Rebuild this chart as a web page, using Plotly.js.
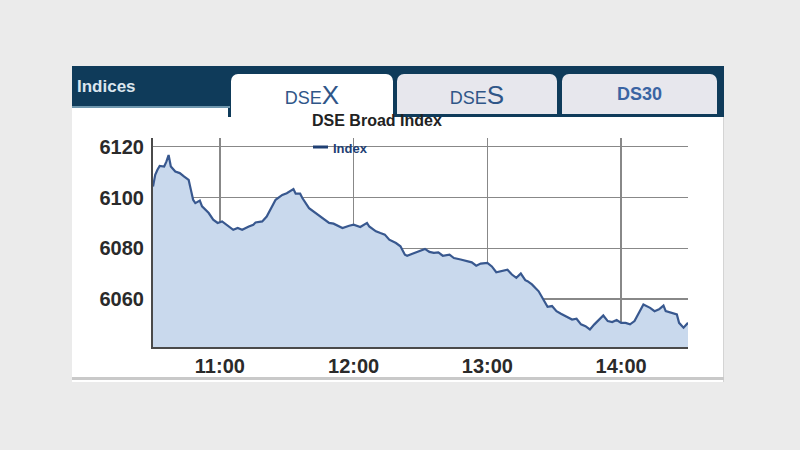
<!DOCTYPE html>
<html>
<head>
<meta charset="utf-8">
<script src="https://cdn.plot.ly/plotly-3.0.1.min.js"></script>
<style>
  html, body { margin:0; padding:0; width:800px; height:450px; background:#ebebeb; overflow:hidden; font-family:"Liberation Sans", Arial, sans-serif; }
  .abs { position:absolute; }
  #panel { left:72px; top:66px; width:652px; height:316px; background:#ffffff; border-right:1px solid #d4d4d4; box-sizing:border-box; }
  #panelBottom { left:72px; top:377px; width:652px; height:3px; background:#c9c9c9; }
  #navyLeft { left:72px; top:66px; width:158px; height:41px; background:#0f3b5a; }
  #navyLeftLine { left:72px; top:106px; width:158px; height:2px; background:#6f97ae; }
  #navyRight { left:228px; top:66px; width:496px; height:51px; background:#0f3b5a; }
  .tab { border-radius:7px 7px 0 0; box-sizing:border-box; text-align:center; color:#2f5688; }
  #tab1 { left:231px; top:74px; width:162px; height:50px; background:#ffffff; }
  #tab2 { left:397px; top:74px; width:160px; height:40px; background:#e7e7ed; }
  #tab3 { left:562px; top:74px; width:155px; height:40px; background:#e7e7ed; }
  #indices { left:77px; top:77px; color:#dbe6ee; font-weight:bold; font-size:17px; }
  .tabtxt { position:absolute; left:0; right:0; top:6px; font-size:18px; }
  .big { font-size:26px; }
  #tab3 .tabtxt { top:10px; font-weight:bold; font-size:18px; color:#3a64a3; }
  #chart { left:0; top:0; width:800px; height:450px; }
</style>
</head>
<body>
<div id="panel" class="abs"></div>
<div id="panelBottom" class="abs"></div>
<div id="navyRight" class="abs"></div>
<div id="navyLeft" class="abs"></div>
<div id="navyLeftLine" class="abs"></div>
<div id="indices" class="abs">Indices</div>
<div id="tab1" class="abs tab"><div class="tabtxt">DSE<span class="big">X</span></div></div>
<div id="tab2" class="abs tab"><div class="tabtxt">DSE<span class="big">S</span></div></div>
<div id="tab3" class="abs tab"><div class="tabtxt">DS30</div></div>
<div id="chart" class="abs"></div>
<script>
// Intraday times (session day) and DSEX index values
const day = "2024-01-01 ";
const times = [
  "10:30","10:31","10:32","10:33","10:35","10:36","10:37","10:38","10:40","10:42",
  "10:44","10:46","10:47","10:48","10:49","10:51","10:52","10:55","10:57","10:59",
  "11:01","11:04","11:06","11:08","11:10","11:13","11:15","11:16","11:19","11:21",
  "11:23","11:25","11:28","11:30","11:33","11:34","11:36","11:37","11:40","11:42",
  "11:44","11:46","11:49","11:51","11:53","11:55","11:58","12:00","12:03","12:06",
  "12:07","12:10","12:12","12:14","12:16","12:19","12:21","12:23","12:24","12:27",
  "12:29","12:32","12:34","12:36","12:38","12:40","12:43","12:45","12:48","12:51",
  "12:53","12:55","12:57","13:00","13:02","13:04","13:06","13:09","13:11","13:13",
  "13:15","13:17","13:18","13:20","13:23","13:25","13:27","13:29","13:31","13:33",
  "13:35","13:38","13:40","13:42","13:44","13:46","13:48","13:50","13:52","13:54",
  "13:56","13:58","14:00","14:02","14:04","14:06","14:08","14:10","14:13","14:15",
  "14:17","14:19","14:20","14:23","14:25","14:26","14:28","14:30"
];
const indexValues = [
  6104.3,6108.9,6110.9,6112.4,6112.2,6114.1,6116.7,6112.2,6110.2,6109.6,
  6108.2,6106.9,6103.0,6099.1,6097.8,6098.8,6096.5,6093.9,6091.3,6090.0,
  6090.6,6088.6,6087.3,6088.0,6087.3,6088.6,6089.3,6090.2,6090.6,6092.5,
  6095.8,6099.1,6101.0,6101.7,6103.3,6101.5,6101.5,6099.8,6095.8,6094.5,
  6093.2,6091.9,6090.0,6089.7,6088.9,6088.0,6088.9,6089.3,6088.4,6090.0,
  6088.6,6086.7,6086.0,6085.4,6083.4,6082.1,6080.8,6077.5,6077.1,6078.2,
  6078.8,6079.8,6078.6,6078.2,6078.4,6077.1,6077.5,6076.2,6075.6,6074.9,
  6074.5,6073.2,6074.0,6074.3,6072.9,6070.6,6071.0,6071.6,6069.7,6068.4,
  6070.1,6067.5,6067.1,6065.8,6063.1,6060.0,6057.0,6057.3,6055.3,6054.3,
  6053.3,6052.0,6052.3,6050.1,6049.4,6048.1,6050.1,6052.0,6053.6,6051.4,
  6051.0,6051.8,6050.7,6050.7,6050.1,6051.4,6054.7,6057.9,6056.6,6055.3,
  6056.0,6057.5,6055.3,6054.7,6054.0,6050.7,6048.8,6050.7
];
const xTickTimes = ["11:00","12:00","13:00","14:00"];
const xTickLabels = ["11:00","12:00","13:00","14:00"];
const yTicks = [6060, 6080, 6100, 6120];
const chartTitle = "DSE Broad Index";
const seriesName = "Index";

const font = "Liberation Sans, Arial, sans-serif";
const trace = {
  x: times.map(t => day + t),
  y: indexValues,
  type: "scatter",
  mode: "lines",
  name: seriesName,
  line: { color: "#38588f", width: 2.2 },
  fill: "tozeroy",
  fillcolor: "#c9d9ed",
  hoverinfo: "skip"
};
const layout = {
  width: 800, height: 450,
  margin: { l: 153, r: 112, t: 138, b: 103, pad: 0 },
  paper_bgcolor: "rgba(0,0,0,0)",
  plot_bgcolor: "rgba(0,0,0,0)",
  showlegend: false,
  xaxis: {
    type: "date",
    range: [day + "10:30", day + "14:30"],
    tickvals: xTickTimes.map(t => day + t),
    ticktext: xTickLabels,
    showgrid: true, gridcolor: "#888888", gridwidth: 1.6,
    showline: true, linecolor: "#4a4a4a", linewidth: 2,
    ticks: "", ticklabelstandoff: 0,
    tickfont: { family: font, size: 20, color: "#2a2a2a", weight: "bold" },
    zeroline: false, fixedrange: true
  },
  yaxis: {
    range: [6041.2, 6123.4],
    tickvals: yTicks,
    ticktext: yTicks.map(String),
    showgrid: true, gridcolor: "#888888", gridwidth: 1.6,
    showline: true, linecolor: "#4a4a4a", linewidth: 2,
    ticks: "", ticklabelstandoff: 3,
    tickfont: { family: font, size: 20, color: "#2a2a2a", weight: "bold" },
    zeroline: false, fixedrange: true
  },
  annotations: [
    { xref: "paper", yref: "paper", x: (377 - 153) / 535, y: (450 - 103 - 120) / 209, text: "<b>" + chartTitle + "</b>",
      showarrow: false, xanchor: "center", yanchor: "middle", font: { family: font, size: 16, color: "#222" } },
    { xref: "paper", yref: "paper", x: (331 - 153) / 535, y: (450 - 103 - 148) / 209, text: "<b>" + seriesName + "</b>",
      showarrow: false, xanchor: "left", yanchor: "middle", font: { family: font, size: 13, color: "#1f3f73" } }
  ],
  shapes: [
    { type: "line", xref: "paper", yref: "paper", x0: (313 - 153) / 535, x1: (328 - 153) / 535,
      y0: (450 - 103 - 147) / 209, y1: (450 - 103 - 147) / 209, line: { color: "#1f3f73", width: 3 } }
  ]
};
Plotly.newPlot("chart", [trace], layout, { displayModeBar: false, staticPlot: true });
</script>
</body>
</html>
